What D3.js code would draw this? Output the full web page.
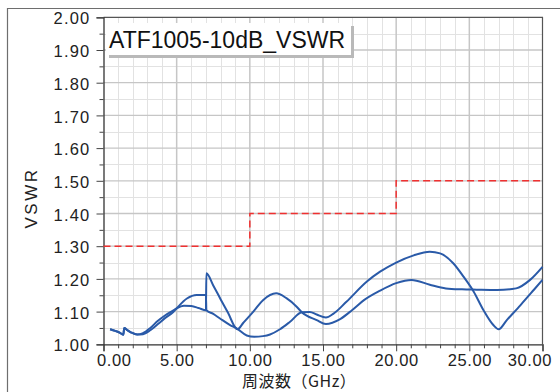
<!DOCTYPE html>
<html>
<head>
<meta charset="utf-8">
<script src="https://cdn.jsdelivr.net/npm/d3@7/dist/d3.min.js"></script>
<style>
  html, body { margin: 0; padding: 0; background: #fff; }
  svg { display: block; }
  .tick text { font-family: "Liberation Sans", Arial, sans-serif; fill: #222; }
</style>
</head>
<body>
<svg id="chart" width="560" height="392"></svg>
<script>
// Frequency axis ticks (GHz) and VSWR axis ticks
const freqTicks = [0, 5, 10, 15, 20, 25, 30];
const vswrTicks = [1.0, 1.1, 1.2, 1.3, 1.4, 1.5, 1.6, 1.7, 1.8, 1.9, 2.0];

// Specification limit: 1.30 up to 10 GHz, 1.40 up to 20 GHz, 1.50 up to 30 GHz
const limitFreq = [0, 10, 10, 20, 20, 30];
const limitVswr = [1.30, 1.30, 1.40, 1.40, 1.50, 1.50];

// Measured VSWR, trace 1 (frequency in GHz)
const trace1Freq = [0.45, 0.8, 1.1, 1.35, 1.42, 1.6, 1.9, 2.3, 2.7, 3.2, 3.7, 4.2, 4.75, 5.0, 5.5, 6.0, 6.5, 7.0, 7.03,
  7.5, 8.0, 8.5, 9.15, 9.56, 10.24, 10.9, 11.8, 12.5, 13.2, 13.55, 14.57, 15.2, 16.2, 17.0, 17.8, 18.9, 20.0, 21.05,
  22.3, 23.4, 24.5, 25.5, 26.9, 28.2, 29.15, 30.0];
const trace1Vswr = [1.046, 1.041, 1.036, 1.029, 1.050, 1.044, 1.036, 1.030, 1.034, 1.050, 1.071, 1.088, 1.103, 1.110,
  1.118, 1.117, 1.111, 1.104, 1.217, 1.180, 1.138, 1.097, 1.046, 1.066, 1.100, 1.135, 1.156, 1.141, 1.115, 1.098,
  1.074, 1.062, 1.078, 1.105, 1.135, 1.164, 1.187, 1.197, 1.182, 1.171, 1.168, 1.167, 1.166, 1.171, 1.197, 1.237];

// Measured VSWR, trace 2
const trace2Freq = [0.45, 0.8, 1.1, 1.35, 1.42, 1.6, 1.9, 2.3, 2.7, 3.2, 3.7, 4.2, 4.75, 5.0, 5.7, 6.37, 7.0, 7.03,
  7.5, 7.96, 8.65, 9.1, 9.79, 10.3, 10.9, 11.38, 12.06, 12.75, 13.55, 14.1, 14.57, 15.2, 15.7, 16.6, 18.0, 18.9,
  20.0, 21.2, 22.3, 23.0, 23.9, 24.6, 25.3, 25.96, 26.64, 27.0, 27.56, 28.5, 29.4, 30.0];
const trace2Vswr = [1.046, 1.041, 1.036, 1.029, 1.050, 1.044, 1.036, 1.030, 1.031, 1.043, 1.061, 1.080, 1.098, 1.110,
  1.140, 1.151, 1.151, 1.104, 1.093, 1.079, 1.059, 1.049, 1.027, 1.023, 1.025, 1.030, 1.046, 1.069, 1.098, 1.099,
  1.091, 1.082, 1.093, 1.130, 1.192, 1.222, 1.250, 1.272, 1.283, 1.278, 1.248, 1.207, 1.161, 1.105, 1.059, 1.046,
  1.074, 1.120, 1.166, 1.197];

const chartTitle = "ATF1005-10dB_VSWR";
const xTitle = "周波数（GHz）";
const yTitle = "VSWR";

const svg = d3.select("#chart");
const plotLeft = 103.5, plotRight = 542.5, plotTop = 17.3, plotBottom = 344.3;

const x = d3.scaleLinear().domain([0, 30]).range([plotLeft, plotRight]);
const y = d3.scaleLinear().domain([1, 2]).range([plotBottom, plotTop]);

// Outer frame
svg.append("path")
  .attr("d", "M7.5,392 L7.5,8.5 L560,8.5")
  .attr("fill", "none").attr("stroke", "#6e6e6e").attr("stroke-width", 1.2);

// Grid: minor every 1 GHz / 0.05, major every 5 GHz / 0.1
const grid = svg.append("g");
const minorX = d3.range(1, 30, 1).filter(d => d % 5 !== 0);
const majorX = freqTicks.filter(d => d > 0 && d < 30);
const minorY = d3.range(1.05, 2.0, 0.1).map(d => +d.toFixed(2));
const majorY = vswrTicks.filter(d => d > 1 && d < 2);

grid.selectAll(".vminor").data(minorX).join("line")
  .attr("x1", d => Math.round(x(d)) + 0.5).attr("x2", d => Math.round(x(d)) + 0.5)
  .attr("y1", plotTop).attr("y2", plotBottom).attr("stroke", "#e2e2e2").attr("stroke-width", 1);
grid.selectAll(".hminor").data(minorY).join("line")
  .attr("y1", d => Math.round(y(d)) + 0.5).attr("y2", d => Math.round(y(d)) + 0.5)
  .attr("x1", plotLeft).attr("x2", plotRight).attr("stroke", "#e2e2e2").attr("stroke-width", 1);
grid.selectAll(".vmajor").data(majorX).join("line")
  .attr("x1", d => x(d)).attr("x2", d => x(d))
  .attr("y1", plotTop).attr("y2", plotBottom).attr("stroke", "#c6c6c6").attr("stroke-width", 1.5);
grid.selectAll(".hmajor").data(majorY).join("line")
  .attr("y1", d => y(d)).attr("y2", d => y(d))
  .attr("x1", plotLeft).attr("x2", plotRight).attr("stroke", "#c6c6c6").attr("stroke-width", 1.3);

// Plot border (top and right)
svg.append("path")
  .attr("d", `M${plotLeft},${plotTop} L${plotRight},${plotTop} L${plotRight},${plotBottom}`)
  .attr("fill", "none").attr("stroke", "#555").attr("stroke-width", 1.2);

// Axes
const fmt = d3.format(".2f");
const yAxis = svg.append("g").attr("transform", `translate(${plotLeft},0)`)
  .call(d3.axisLeft(y).tickValues(vswrTicks).tickFormat(fmt).tickSize(7).tickPadding(6));
svg.append("g").attr("transform", `translate(${plotLeft},0)`)
  .call(d3.axisLeft(y).tickValues(minorY).tickFormat("").tickSize(4))
  .call(g => g.select(".domain").remove());
const xAxis = svg.append("g").attr("transform", `translate(0,${plotBottom})`)
  .call(d3.axisBottom(x).tickValues(freqTicks).tickFormat(fmt).tickSize(7).tickPadding(3));
svg.append("g").attr("transform", `translate(0,${plotBottom})`)
  .call(d3.axisBottom(x).tickValues(minorX).tickFormat("").tickSize(4))
  .call(g => g.select(".domain").remove());

svg.selectAll(".domain").attr("stroke", "#333").attr("stroke-width", 1.3);
svg.selectAll(".tick line").attr("stroke", "#444");
yAxis.selectAll("text").style("font-size", "16.5px").style("letter-spacing", "1.2px").attr("dy", "0.4em");
xAxis.selectAll("text").style("font-size", "16.5px").style("letter-spacing", "0.6px");
// keep the end labels inside the axis span
xAxis.selectAll(".tick").filter(d => d === 0).select("text").attr("text-anchor", "start").attr("x", -7);
xAxis.selectAll(".tick").filter(d => d === 30).select("text").attr("text-anchor", "end").attr("x", 9);

// Axis titles
svg.append("text")
  .attr("x", 242).attr("y", 387)
  .style("font-family", "'Noto Sans CJK JP', sans-serif")
  .style("font-size", "16px")
  .style("letter-spacing", "0.5px")
  .attr("fill", "#222")
  .text(xTitle);
svg.append("text")
  .attr("transform", "translate(37,198) rotate(-90)")
  .attr("text-anchor", "middle")
  .style("font-family", "'Liberation Sans', Arial, sans-serif")
  .style("font-size", "17px")
  .style("letter-spacing", "2.5px")
  .attr("fill", "#222")
  .text(yTitle);

// Limit line
const limitPts = limitFreq.map((f, i) => [f, limitVswr[i]]);
svg.append("path")
  .datum(limitPts)
  .attr("d", d3.line().x(d => x(d[0])).y(d => y(d[1])))
  .attr("fill", "none").attr("stroke", "#f03030").attr("stroke-width", 1.5)
  .attr("stroke-dasharray", "7,4");

// Measured traces
const line = d3.line().x(d => x(d[0])).y(d => y(d[1])).curve(d3.curveMonotoneX);
const traces = [
  trace1Freq.map((f, i) => [f, trace1Vswr[i]]),
  trace2Freq.map((f, i) => [f, trace2Vswr[i]])
];
svg.selectAll(".trace").data(traces).join("path")
  .attr("class", "trace")
  .attr("d", line)
  .attr("fill", "none").attr("stroke", "#2a5aa8").attr("stroke-width", 2)
  .attr("stroke-linejoin", "round");

// Title box with drop shadow
const tb = { x: 106, y: 23, w: 245, h: 32 };
svg.append("rect").attr("x", tb.x + 3).attr("y", tb.y + 3).attr("width", tb.w).attr("height", tb.h)
  .attr("fill", "#b9b9b9");
svg.append("rect").attr("x", tb.x).attr("y", tb.y).attr("width", tb.w).attr("height", tb.h)
  .attr("fill", "#fff");
svg.append("text")
  .attr("x", 109).attr("y", 48)
  .style("font-family", "'Liberation Sans', Arial, sans-serif")
  .style("font-size", "23px")
  .attr("fill", "#111")
  .text(chartTitle);
</script>
</body>
</html>
